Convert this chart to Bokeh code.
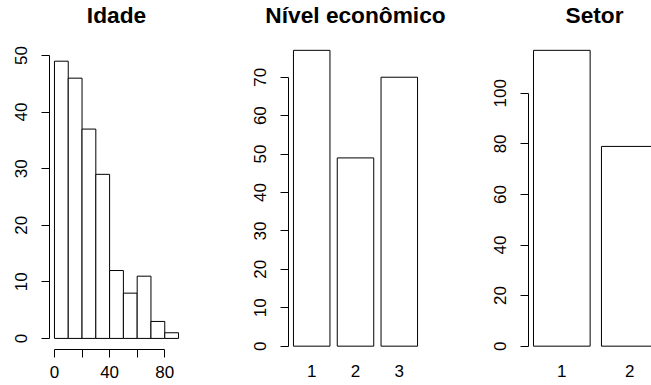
import math
from bokeh.plotting import figure
from bokeh.layouts import row
from bokeh.models import Range1d, FixedTicker
from bokeh.embed import file_html
from bokeh.resources import INLINE

# ---------------- data ----------------
idade_breaks = [0, 10, 20, 30, 40, 50, 60, 70, 80, 90]
idade_counts = [49, 46, 37, 29, 12, 8, 11, 3, 1]
idade_xticks = [0, 20, 40, 60, 80]
idade_xlabels = ["0", "", "40", "", "80"]
idade_yticks = [0, 10, 20, 30, 40, 50]

nivel_names = ["1", "2", "3"]
nivel_counts = [77, 49, 70]
nivel_yticks = [0, 10, 20, 30, 40, 50, 60, 70]

setor_names = ["1", "2"]
setor_counts = [117, 79]
setor_yticks = [0, 20, 40, 60, 80, 100]

FONT = "Liberation Sans"
TICK_SIZE = "17px"
TITLE_SIZE = "22.7px"
HEIGHT = 385
TOP, BOTTOM = 28, 36                     # shared frame borders
FRAME_TOP, FRAME_BOT = TOP, HEIGHT - BOTTOM
HIST_REGION = (49.6, 349.0)              # plot region of the histogram (px)
BAR_REGION = (38.0, 357.5)               # plot region of the bar plots (px)


def ext(lo, hi):
    d = (hi - lo) * 0.04
    return lo - d, hi + d


def remap(lo, hi, region):
    """range that keeps the R plot-region scale inside the shared frame"""
    rtop, rbot = region
    ppu = (rbot - rtop) / (hi - lo)
    return lo - (FRAME_BOT - rbot) / ppu, hi + (rtop - FRAME_TOP) / ppu


def style(p, title, align="center", offset=0):
    p.grid.visible = False
    p.outline_line_color = None
    p.background_fill_color = "white"
    p.border_fill_color = "white"
    p.title.text = title
    p.title.text_font = FONT
    p.title.text_font_size = TITLE_SIZE
    p.title.text_font_style = "bold"
    p.title.text_color = "black"
    p.title.align = align
    p.title.offset = offset
    p.title.vertical_align = "middle"
    p.title.standoff = 0
    for ax in (p.xaxis[0], p.yaxis[0]):
        ax.major_label_text_font = FONT
        ax.major_label_text_font_size = TICK_SIZE
        ax.major_label_text_color = "black"
        ax.axis_line_color = "black"
        ax.major_tick_line_color = "black"
        ax.minor_tick_line_color = None
        ax.major_tick_in = 0
        ax.major_tick_out = 8
    yax = p.yaxis[0]
    yax.major_label_orientation = "vertical"
    yax.major_label_standoff = 14


def yaxis_setup(p, ticks):
    yax = p.yaxis[0]
    yax.ticker = FixedTicker(ticks=ticks)
    yax.bounds = (ticks[0], ticks[-1])


def barplot(width, names, counts, ticks, title, mb_left, mb_right, align="center", offset=0,
            visible_px=None):
    lefts = [0.2 + 1.2 * i for i in range(len(counts))]
    rights = [l + 1.0 for l in lefts]
    centers = [l + 0.5 for l in lefts]
    x0, x1 = ext(lefts[0], rights[-1])
    if visible_px is not None:
        full_px = 134.6
        x1 = x0 + (x1 - x0) * visible_px / full_px
    y0, y1 = remap(*ext(0, max(counts)), BAR_REGION)
    p = figure(width=width, height=HEIGHT, output_backend="svg", toolbar_location=None,
               x_range=Range1d(x0, x1), y_range=Range1d(y0, y1),
               min_border_left=mb_left, min_border_right=mb_right,
               min_border_top=TOP, min_border_bottom=BOTTOM)
    p.quad(left=lefts, right=rights, bottom=0, top=counts,
           fill_color="white", line_color="black", line_width=1)
    style(p, title, align, offset)
    yaxis_setup(p, ticks)
    xax = p.xaxis[0]
    xax.ticker = FixedTicker(ticks=centers)
    xax.major_label_overrides = {c: n for c, n in zip(centers, names)}
    xax.axis_line_color = None
    xax.major_tick_line_color = None
    xax.major_tick_out = 0
    xax.major_label_standoff = 15
    return p


# ---------------- panel 1: histogram ----------------
hx0, hx1 = ext(idade_breaks[0], idade_breaks[-1])
hy0, hy1 = remap(*ext(0, max(idade_counts)), HIST_REGION)
p1 = figure(width=220, height=HEIGHT, output_backend="svg", toolbar_location=None,
            x_range=Range1d(hx0, hx1), y_range=Range1d(hy0, hy1),
            min_border_left=49, min_border_right=37,
            min_border_top=TOP, min_border_bottom=BOTTOM)
p1.quad(left=idade_breaks[:-1], right=idade_breaks[1:], bottom=0, top=idade_counts,
        fill_color="white", line_color="black", line_width=1)
style(p1, "Idade")
yaxis_setup(p1, idade_yticks)
xax1 = p1.xaxis[0]
xax1.ticker = FixedTicker(ticks=idade_xticks)
xax1.bounds = (idade_xticks[0], idade_xticks[-1])
xax1.major_label_overrides = {t: l for t, l in zip(idade_xticks, idade_xlabels)}
xax1.major_label_standoff = 8

# ---------------- panel 2 & 3: barplots ----------------
p2 = barplot(235, nivel_names, nivel_counts, nivel_yticks, "Nível econômico", 68, 33)
p3 = barplot(196, setor_names, setor_counts, setor_yticks, "Setor", 73, 0,
             align="left", offset=37, visible_px=123)

layout = row(p1, p2, p3)
open("out.html", "w").write(file_html(layout, INLINE))
